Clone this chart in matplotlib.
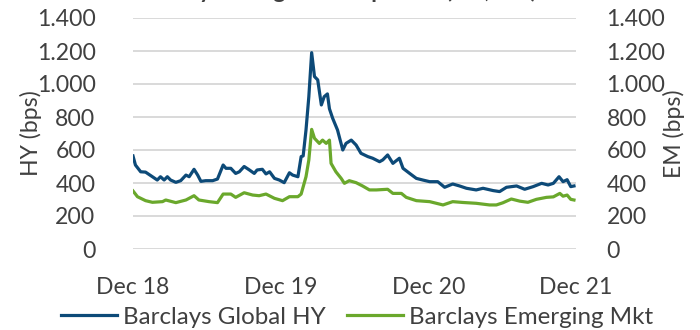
import matplotlib
matplotlib.use("Agg")
import matplotlib.pyplot as plt
import pandas as pd

plt.rcParams['font.family'] = ['Lato', 'DejaVu Sans']

title = "Monthly average bond spreads (HY, EM)"
hy_label = "Barclays Global HY"
em_label = "Barclays Emerging Mkt"
y_left_label = "HY (bps)"
y_right_label = "EM (bps)"

hy_dates = ["2018-12-31", "2019-01-06", "2019-01-19", "2019-01-31", "2019-02-17", "2019-03-01",
            "2019-03-09", "2019-03-18", "2019-03-26", "2019-04-03", "2019-04-16", "2019-04-28",
            "2019-05-11", "2019-05-19", "2019-05-31", "2019-06-09", "2019-06-17", "2019-06-29",
            "2019-07-16", "2019-07-28", "2019-08-11", "2019-08-18", "2019-08-30", "2019-09-11",
            "2019-09-20", "2019-10-02", "2019-10-15", "2019-10-27", "2019-11-03", "2019-11-16",
            "2019-11-25", "2019-12-04", "2019-12-16", "2019-12-28", "2020-01-09", "2020-01-22",
            "2020-01-30", "2020-02-12", "2020-02-20", "2020-02-25", "2020-03-03", "2020-03-10",
            "2020-03-17", "2020-03-24", "2020-04-01", "2020-04-10", "2020-04-17", "2020-04-25",
            "2020-04-30", "2020-05-08", "2020-05-20", "2020-06-02", "2020-06-10", "2020-06-23",
            "2020-07-05", "2020-07-17", "2020-08-03", "2020-08-15", "2020-09-01", "2020-09-09",
            "2020-09-21", "2020-10-04", "2020-10-20", "2020-10-29", "2020-11-14", "2020-12-01",
            "2020-12-17", "2021-01-03", "2021-01-23", "2021-02-09", "2021-03-01", "2021-03-18",
            "2021-04-04", "2021-04-28", "2021-05-15", "2021-06-09", "2021-06-25", "2021-07-12",
            "2021-08-06", "2021-08-26", "2021-09-16", "2021-10-07", "2021-10-23", "2021-11-05",
            "2021-11-19", "2021-11-29", "2021-12-09", "2021-12-18", "2021-12-26"]
hy_values = [564, 509, 468, 466, 438, 418,
             438, 418, 438, 418, 404, 414,
             448, 438, 483, 448, 410, 414,
             414, 424, 509, 489, 489, 458,
             468, 500, 479, 458, 479, 483,
             455, 468, 428, 418, 402, 462,
             448, 438, 560, 564, 721, 923,
             1190, 1045, 1025, 873, 923, 940,
             850, 792, 721, 600, 640, 660,
             630, 580, 560, 550, 529, 540,
             570, 519, 550, 489, 459, 428,
             418, 408, 408, 374, 394, 382,
             368, 358, 368, 354, 348, 374,
             382, 362, 378, 398, 388, 398,
             438, 408, 420, 378, 382]

em_dates = ["2018-12-31", "2019-01-11", "2019-01-31", "2019-02-17", "2019-03-14", "2019-03-22",
            "2019-04-16", "2019-05-11", "2019-05-31", "2019-06-12", "2019-07-07", "2019-07-28",
            "2019-08-11", "2019-08-30", "2019-09-11", "2019-10-02", "2019-10-23", "2019-11-08",
            "2019-11-25", "2019-12-16", "2020-01-05", "2020-01-22", "2020-02-12", "2020-02-20",
            "2020-03-03", "2020-03-10", "2020-03-17", "2020-03-24", "2020-04-05", "2020-04-13",
            "2020-04-22", "2020-04-30", "2020-05-04", "2020-05-16", "2020-05-29", "2020-06-06",
            "2020-06-18", "2020-07-05", "2020-07-21", "2020-08-07", "2020-08-24", "2020-09-21",
            "2020-10-04", "2020-10-25", "2020-11-06", "2020-12-01", "2021-01-03", "2021-02-05",
            "2021-03-01", "2021-03-26", "2021-04-28", "2021-05-31", "2021-06-17", "2021-07-03",
            "2021-07-24", "2021-08-14", "2021-09-03", "2021-09-24", "2021-10-19", "2021-11-05",
            "2021-11-21", "2021-11-29", "2021-12-09", "2021-12-18", "2021-12-26"]
em_values = [352, 317, 293, 283, 287, 297,
             281, 297, 323, 297, 287, 281,
             333, 333, 313, 341, 327, 323,
             333, 307, 293, 317, 317, 333,
             438, 539, 725, 671, 640, 660,
             640, 660, 519, 468, 428, 398,
             414, 402, 382, 358, 358, 362,
             337, 337, 313, 293, 287, 267,
             287, 282, 277, 267, 267, 280,
             303, 290, 283, 301, 313, 316,
             337, 320, 327, 301, 297]

x_ticks = ["2018-12-31", "2019-12-31", "2020-12-31", "2021-12-31"]
x_tick_labels = ["Dec 18", "Dec 19", "Dec 20", "Dec 21"]
y_ticks = [0, 200, 400, 600, 800, 1000, 1200, 1400]
y_tick_labels = ["0", "200", "400", "600", "800", "1.000", "1.200", "1.400"]

HY_COLOR = "#0d4a78"
EM_COLOR = "#6aa82c"
TEXT = "#404040"
FS = 16.6
FS_LEG = 17.4

fig = plt.figure(figsize=(7, 3.3), dpi=100)
ax = fig.add_axes([133 / 700, 1 - 249 / 330, (576 - 133) / 700, (249 - 18) / 330])
ax2 = ax.twinx()

hy_x = pd.to_datetime(hy_dates)
em_x = pd.to_datetime(em_dates)
l1, = ax.plot(hy_x, hy_values, color=HY_COLOR, lw=2.3, solid_joinstyle='round', zorder=3)
l2, = ax.plot(em_x, em_values, color=EM_COLOR, lw=2.3, solid_joinstyle='round', zorder=3)

xt = pd.to_datetime(x_ticks)
ax.set_xlim(xt[0], xt[-1])
ax.set_ylim(0, 1400)
ax2.set_ylim(0, 1400)
ax.set_xticks(xt)
ax.set_xticklabels(x_tick_labels)
ax.set_yticks(y_ticks)
ax.set_yticklabels(y_tick_labels)
ax2.set_yticks(y_ticks)
ax2.set_yticklabels(y_tick_labels)

ax.grid(axis='y', color='#d9d9d9', lw=1.4, zorder=0)
ax.set_axisbelow(True)
for a in (ax, ax2):
    for s in a.spines.values():
        s.set_visible(False)
    a.tick_params(length=0, labelsize=FS, labelcolor=TEXT)
ax.tick_params(axis='y', pad=27)
ax2.tick_params(axis='y', pad=22)
ax.tick_params(axis='x', pad=20)

ax.set_ylabel(y_left_label, fontsize=FS, color=TEXT)
ax2.set_ylabel(y_right_label, fontsize=FS, color=TEXT)
ax.yaxis.set_label_coords((42 - 133) / 443, 0.5)
ax2.yaxis.set_label_coords((663 - 133) / 443, 0.5)

fig.text(330 / 700, 1 + 2 / 330, title, ha='center', va='baseline', fontsize=FS,
         color=TEXT, fontweight='bold')

fig.legend([l1, l2], [hy_label, em_label], loc='center', ncol=2,
           bbox_to_anchor=(357 / 700, 1 - 317 / 330), frameon=False,
           fontsize=FS_LEG, labelcolor=TEXT, handlelength=2.3, handletextpad=0.25,
           columnspacing=0.9, borderpad=0, borderaxespad=0)

fig.savefig("out.png", dpi=100)
